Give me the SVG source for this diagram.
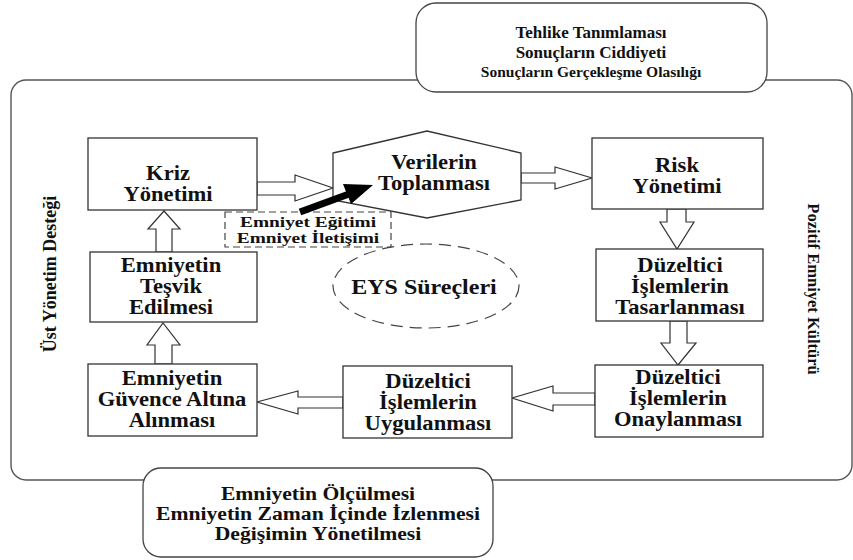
<svg xmlns="http://www.w3.org/2000/svg" width="853" height="560" viewBox="0 0 853 560">
  <style>
    .box { fill: #fff; stroke: #333; stroke-width: 1.3; }
    .frame { fill: none; stroke: #555; stroke-width: 1.4; }
    .note { fill: #fff; stroke: #444; stroke-width: 1.3; }
    .dash { fill: #fff; stroke: #444; stroke-width: 1.2; stroke-dasharray: 7 4; }
    .oval { fill: none; stroke: #444; stroke-width: 1.2; stroke-dasharray: 12 7; }
    .blk { fill: #fff; stroke: #333; stroke-width: 1.2; stroke-linejoin: miter; }
    text { font-weight: bold; fill: #111; text-anchor: middle; }
    .t20 { font-size: 20px; }
    .t18 { font-size: 18px; }
  </style>

  <rect id="background" x="0" y="0" width="853" height="560" fill="#fff"/>

  <g font-family="'Liberation Serif', 'DejaVu Serif', serif">
  <!-- outer frame with the two side labels -->
  <g id="frame">
    <rect class="frame" x="11" y="80" width="841" height="400" rx="15" ry="15"/>
    <text class="t18" transform="translate(56 274) rotate(-90)">Üst Yönetim Desteği</text>
    <text class="t18" style="font-size:16.5px" transform="translate(808 289) rotate(90)">Pozitif Emniyet Kültürü</text>
  </g>

  <!-- hazard identification note -->
  <g id="hazard-note">
    <rect class="note" x="416" y="3" width="351" height="89" rx="20" ry="20"/>
    <text x="591" y="38" style="font-size:17px">Tehlike Tanımlaması</text>
    <text x="591" y="58" style="font-size:17px">Sonuçların Ciddiyeti</text>
    <text x="591" y="77" style="font-size:15.5px">Sonuçların Gerçekleşme Olasılığı</text>
  </g>

  <!-- safety assurance note -->
  <g id="assurance-note">
    <rect class="note" x="143" y="468" width="350" height="89" rx="18" ry="18"/>
    <g transform="translate(318 0) scale(1.14 1)">
      <text style="font-size:19px" x="0" y="500">Emniyetin Ölçülmesi</text>
      <text style="font-size:19px" x="0" y="520">Emniyetin Zaman İçinde İzlenmesi</text>
      <text style="font-size:19px" x="0" y="540">Değişimin Yönetilmesi</text>
    </g>
  </g>

  <!-- block arrows between the process steps -->
  <g id="connectors">
    <polygon class="blk" points="257,182 295,182 295,175 333,188 295,201 295,195 257,195"/>
    <polygon class="blk" points="521,173 555,173 555,167 592,178 555,189 555,183 521,183"/>
    <polygon class="blk" points="667,209 686,209 686,222 694,222 677,249 660,222 667,222"/>
    <polygon class="blk" points="670,321 687,321 687,343 696,343 678,365 661,343 670,343"/>
    <polygon class="blk" points="595,393 553,393 553,386 512,398 553,411 553,405 595,405"/>
    <polygon class="blk" points="343,397 298,397 298,391 257,402 298,414 298,408 343,408"/>
    <polygon class="blk" points="155,364 172,364 172,345 180,345 163,323 147,345 155,345"/>
    <polygon class="blk" points="156,252 172,252 172,229 180,229 164,211 148,229 156,229"/>
  </g>

  <g id="kriz">
    <rect class="box" x="88" y="138" width="169" height="72"/>
    <g transform="translate(168 0) scale(1.13 1)">
      <text class="t20" x="0" y="180">Kriz</text>
      <text class="t20" x="0" y="201">Yönetimi</text>
    </g>
  </g>

  <g id="veriler">
    <polygon class="box" points="333,153 427,131 521,153 521,200 427,218 333,200"/>
    <g transform="translate(434 0) scale(1.13 1)">
      <text class="t20" x="0" y="169">Verilerin</text>
      <text class="t20" x="0" y="190">Toplanması</text>
    </g>
  </g>

  <g id="egitim">
    <rect class="dash" x="225" y="212" width="166" height="35"/>
    <g transform="translate(308 0) scale(1.25 1)">
      <text style="font-size:15.5px" x="0" y="227">Emniyet Eğitimi</text>
      <text style="font-size:15.5px" x="0" y="243">Emniyet İletişimi</text>
    </g>
  </g>

  <g id="risk">
    <rect class="box" x="592" y="138" width="171" height="71"/>
    <g transform="translate(677 0) scale(1.13 1)">
      <text class="t20" x="0" y="172">Risk</text>
      <text class="t20" x="0" y="193">Yönetimi</text>
    </g>
  </g>

  <g id="tasarlanmasi">
    <rect class="box" x="596" y="249" width="167" height="72"/>
    <g transform="translate(680 0) scale(1.13 1)">
      <text class="t20" x="0" y="272">Düzeltici</text>
      <text class="t20" x="0" y="293">İşlemlerin</text>
      <text class="t20" x="0" y="314">Tasarlanması</text>
    </g>
  </g>

  <g id="onaylanmasi">
    <rect class="box" x="595" y="365" width="168" height="72"/>
    <g transform="translate(678 0) scale(1.13 1)">
      <text class="t20" x="0" y="384">Düzeltici</text>
      <text class="t20" x="0" y="405">İşlemlerin</text>
      <text class="t20" x="0" y="426">Onaylanması</text>
    </g>
  </g>

  <g id="uygulanmasi">
    <rect class="box" x="343" y="366" width="169" height="72"/>
    <g transform="translate(428 0) scale(1.13 1)">
      <text class="t20" x="0" y="388">Düzeltici</text>
      <text class="t20" x="0" y="409">İşlemlerin</text>
      <text class="t20" x="0" y="430">Uygulanması</text>
    </g>
  </g>

  <g id="guvence">
    <rect class="box" x="88" y="364" width="169" height="72"/>
    <g transform="translate(172 0) scale(1.13 1)">
      <text class="t20" x="0" y="385">Emniyetin</text>
      <text class="t20" x="0" y="406">Güvence Altına</text>
      <text class="t20" x="0" y="427">Alınması</text>
    </g>
  </g>

  <g id="tesvik">
    <rect class="box" x="90" y="252" width="167" height="70"/>
    <g transform="translate(171 0) scale(1.13 1)">
      <text class="t20" x="0" y="272">Emniyetin</text>
      <text class="t20" x="0" y="293">Teşvik</text>
      <text class="t20" x="0" y="314">Edilmesi</text>
    </g>
  </g>

  <g id="eys">
    <ellipse class="oval" cx="426" cy="286" rx="93" ry="42"/>
    <g transform="translate(424 0) scale(1.2 1)">
      <text class="t20" x="0" y="294">EYS Süreçleri</text>
    </g>
  </g>

  <!-- training / communication feeds data collection -->
  <g id="egitim-link">
    <line x1="300" y1="212" x2="349" y2="194" stroke="#000" stroke-width="7"/>
    <polygon points="373,185 351,204 343,184" fill="#000"/>
  </g>
  </g>
</svg>
